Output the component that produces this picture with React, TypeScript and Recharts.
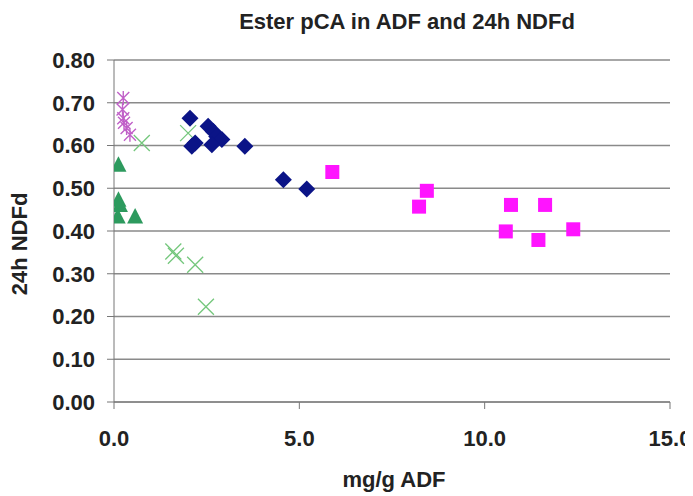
import React from 'react';
import { ScatterChart, Scatter, XAxis, YAxis, CartesianGrid } from 'recharts';

// values
const diamondX = [2.05, 2.19, 2.1, 2.54, 2.68, 2.77, 2.91, 2.64, 3.53, 4.57, 5.2];
const diamondY = [0.664, 0.606, 0.598, 0.645, 0.633, 0.621, 0.614, 0.602, 0.598, 0.52, 0.498];

const squareX = [5.89, 8.44, 8.23, 10.71, 11.63, 10.57, 11.45, 12.39];
const squareY = [0.538, 0.494, 0.457, 0.461, 0.461, 0.399, 0.379, 0.404];

const crossX = [0.75, 2.0, 1.6, 1.67, 2.19, 2.48];
const crossY = [0.606, 0.629, 0.352, 0.342, 0.321, 0.223];

const triangleX = [0.12, 0.12, 0.16, 0.1, 0.57];
const triangleY = [0.555, 0.473, 0.461, 0.434, 0.434];

const starX = [0.25, 0.23, 0.25, 0.27, 0.34, 0.43];
const starY = [0.711, 0.684, 0.664, 0.653, 0.641, 0.625];

const xTicks = [0, 5, 10, 15];
const yTicks = [0, 0.1, 0.2, 0.3, 0.4, 0.5, 0.6, 0.7, 0.8];

const toPoints = (xs: number[], ys: number[]) => xs.map((x, i) => ({ x, y: ys[i] }));

const FONT = '"Liberation Sans", Arial, sans-serif';
const tickStyle = { fontSize: 22, fontWeight: 700, fill: '#222', fontFamily: FONT };

const Diamond = (p: any) => (
  <path d={`M${p.cx},${p.cy - 8.5}L${p.cx + 8.5},${p.cy}L${p.cx},${p.cy + 8.5}L${p.cx - 8.5},${p.cy}Z`} fill="#0b1487" />
);
const Square = (p: any) => <rect x={p.cx - 7} y={p.cy - 7} width={14} height={14} fill="#ff14ff" />;
const Triangle = (p: any) => (
  <path d={`M${p.cx},${p.cy - 8.5}L${p.cx + 8},${p.cy + 7}L${p.cx - 8},${p.cy + 7}Z`} fill="#2d9a5e" />
);
const Cross = (p: any) => (
  <path
    d={`M${p.cx - 8},${p.cy - 8}L${p.cx + 8},${p.cy + 8}M${p.cx - 8},${p.cy + 8}L${p.cx + 8},${p.cy - 8}`}
    stroke="#74c77c"
    strokeWidth={1.3}
    fill="none"
  />
);
const Star = (p: any) => (
  <path
    d={`M${p.cx - 6},${p.cy - 6}L${p.cx + 6},${p.cy + 6}M${p.cx - 6},${p.cy + 6}L${p.cx + 6},${p.cy - 6}M${p.cx},${p.cy - 7}L${p.cx},${p.cy + 7}`}
    stroke="#c060c8"
    strokeWidth={1.4}
    fill="none"
  />
);

export default function App() {
  return (
    <div style={{ width: 685, height: 488, position: 'relative', fontFamily: FONT }}>
      <ScatterChart width={685} height={488} margin={{ top: 52, right: 23, bottom: 34, left: 0 }}>
        <CartesianGrid horizontal vertical={false} stroke="#8a8a8a" strokeWidth={1.6} />
        <XAxis
          type="number"
          dataKey="x"
          domain={[0, 15]}
          ticks={xTicks}
          tickFormatter={(v: number) => v.toFixed(1)}
          tick={tickStyle}
          stroke="#777"
          tickSize={7}
          tickMargin={21}
          height={60}
          allowDataOverflow
        />
        <YAxis
          type="number"
          dataKey="y"
          domain={[0, 0.8]}
          ticks={yTicks}
          tickFormatter={(v: number) => v.toFixed(2)}
          tick={tickStyle}
          stroke="#777"
          tickSize={7}
          tickMargin={12}
          width={106}
          allowDataOverflow
        />
        <Scatter data={toPoints(crossX, crossY)} shape={Cross} isAnimationActive={false} />
        <Scatter data={toPoints(starX, starY)} shape={Star} isAnimationActive={false} />
        <Scatter data={toPoints(triangleX, triangleY)} shape={Triangle} isAnimationActive={false} />
        <Scatter data={toPoints(diamondX, diamondY)} shape={Diamond} isAnimationActive={false} />
        <Scatter data={toPoints(squareX, squareY)} shape={Square} isAnimationActive={false} />
        <text x={399} y={21} textAnchor="middle" fontSize={22} fontWeight={700} fill="#222" fontFamily={FONT}>
          Ester pCA in ADF and 24h NDFd
        </text>
        <text
          x={11}
          y={236}
          transform="rotate(-90 11 236)"
          textAnchor="middle"
          dominantBaseline="central"
          fontSize={22}
          fontWeight={700}
          fill="#222"
          fontFamily={FONT}
        >
          24h NDFd
        </text>
        <text x={386} y={479} textAnchor="middle" fontSize={22} fontWeight={700} fill="#222" fontFamily={FONT}>
          mg/g ADF
        </text>
      </ScatterChart>
    </div>
  );
}
